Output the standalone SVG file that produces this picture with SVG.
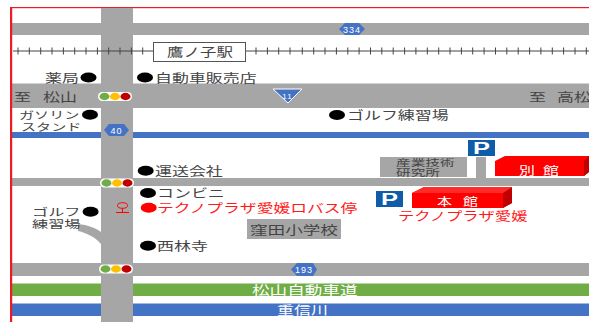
<svg xmlns="http://www.w3.org/2000/svg" width="589" height="322" viewBox="0 0 589 322">
<style>
text{font-family:"Noto Sans CJK JP","Liberation Sans",sans-serif;font-size:16px;fill:#444}
.r{fill:#a6a6a6}
.red{fill:#ff1a1a}.wt{fill:#fff}
.num{font-family:"Liberation Sans",sans-serif;font-size:9px;fill:#fff;letter-spacing:1px;text-anchor:middle}
</style>
<defs>
<g id="sig"><rect x="-17" y="-4.500" width="34" height="9" rx="4.500" fill="#fff"/><ellipse cx="-10.500" cy="0" rx="5" ry="3.700" fill="#70ad47"/><ellipse cx="0" cy="0" rx="5" ry="3.700" fill="#ffc000"/><ellipse cx="10.500" cy="0" rx="5" ry="3.700" fill="#c00000"/></g>
<g id="p"><rect width="27" height="16" fill="#0f5ca8"/><text transform="translate(13.500,14) scale(1.5,1)" text-anchor="middle" style="font-family:'Liberation Sans',sans-serif;font-weight:bold;font-size:17px;fill:#fff">P</text></g>
</defs>
<rect width="589" height="322" fill="#fff"/>
<rect x="10" y="7" width="579" height="1.200" fill="#ed1c24"/>
<rect class="r" x="12" y="23" width="577" height="12"/>
<rect class="r" x="12" y="83.500" width="577" height="24.500"/>
<rect x="12" y="132" width="577" height="6" fill="#4472c4"/>
<rect class="r" x="12" y="178" width="577" height="8"/>
<rect x="476" y="157" width="10" height="22" class="r"/>
<rect class="r" x="12" y="263" width="577" height="13"/>
<rect x="12" y="283.500" width="577" height="12.500" fill="#70ad47"/>
<rect x="12" y="303.500" width="577" height="12.500" fill="#4472c4"/>
<path class="r" d="M101 8h32v314h-32zM78 224C88 225 96 228 101 232V244C95 237 87 233 78 231Z"/>
<rect x="10" y="7" width="2.200" height="315" fill="#ed1c24"/>
<g id="rail" stroke="#444" fill="none"><path d="M13 51H589" stroke-width="1"/>
<path stroke-width="1" d="M18 47.500v7M29.300 47.500v7M40.700 47.500v7M52 47.500v7M63.400 47.500v7M74.700 47.500v7M86 47.500v7M97.400 47.500v7M108.700 47.500v7M120 47.500v7M131.400 47.500v7M142.700 47.500v7M256 47.500v7M267.400 47.500v7M278.700 47.500v7M290 47.500v7M302.300 47.500v7M313.700 47.500v7M325 47.500v7M336.400 47.500v7M347.800 47.500v7M359.100 47.500v7M370.500 47.500v7M381.800 47.500v7M393.200 47.500v7M404.600 47.500v7M415.900 47.500v7M427.300 47.500v7M438.700 47.500v7M450 47.500v7M461.400 47.500v7M472.700 47.500v7M484.100 47.500v7M495.500 47.500v7M506.800 47.500v7M518.200 47.500v7M529.600 47.500v7M540.900 47.500v7M552.300 47.500v7M563.600 47.500v7M575 47.500v7M586.300 47.500v7"/></g>
<g id="station"><rect x="153.500" y="42.500" width="92" height="19" fill="#fff" stroke="#555" stroke-width="1"/><text transform="translate(167,57) scale(1.03,.78)">鷹ノ子駅</text></g>
<path d="M345 23H359L365 29 359 35H345L339 29Z" fill="#4472c4"/>
<text class="num" x="352" y="32.500">334</text>
<path d="M273 89H302L288 103Z" fill="#4472c4" stroke="#fff" stroke-width="1"/>
<text class="num" x="287.500" y="99" style="font-size:8px">11</text>
<path d="M109 124H124L129 130 124 136H109L104 130Z" fill="#4472c4"/>
<text class="num" x="116.500" y="133.500">40</text>
<path d="M297 263H313L317 269.500 313 276H297L291 269.500Z" fill="#4472c4"/>
<text class="num" x="304" y="273">193</text>
<use href="#sig" x="115" y="96.500"/>
<use href="#sig" x="117" y="183"/>
<use href="#sig" x="116" y="269"/>
<g fill="#000"><ellipse cx="88.500" cy="77.500" rx="8" ry="5"/><ellipse cx="145" cy="77.500" rx="8" ry="5"/><ellipse cx="90" cy="114.700" rx="8" ry="5"/><ellipse cx="337" cy="115" rx="8" ry="5"/><ellipse cx="145.700" cy="170.700" rx="8" ry="5"/><ellipse cx="148" cy="193" rx="8" ry="5"/><ellipse cx="90.600" cy="211.700" rx="8" ry="5"/><ellipse cx="148" cy="245.700" rx="8" ry="5"/></g>
<ellipse cx="148.700" cy="207.700" rx="8" ry="5" fill="#f00"/>
<g id="busstop" fill="none" stroke="#f00" stroke-width="1"><ellipse cx="122.500" cy="205.500" rx="5" ry="2.800"/><path d="M122.500 208.300V212M116 212.500H129"/></g>
<text transform="translate(45,83) scale(1.06,.75)">薬局</text>
<text transform="translate(155,83) scale(1.06,.75)">自動車販売店</text>
<text transform="translate(14,102) scale(1.06,.75)">至</text>
<text transform="translate(43,102) scale(1.06,.75)">松山</text>
<text transform="translate(529,102) scale(1.06,.75)">至</text>
<text transform="translate(557,102) scale(1.06,.75)">高松</text>
<text transform="translate(19,119) scale(1.08,.72)" style="font-size:14px">ガソリン</text>
<text transform="translate(21,131) scale(1.08,.72)" style="font-size:14px">スタンド</text>
<text transform="translate(347,120) scale(1.06,.75)">ゴルフ練習場</text>
<text transform="translate(155,176) scale(1.06,.75)">運送会社</text>
<text transform="translate(157,198) scale(1.06,.75)">コンビニ</text>
<text class="red" transform="translate(157,213) scale(1.05,.75)">テクノプラザ愛媛ロバス停</text>
<text transform="translate(32,216) scale(1.08,.72)" style="font-size:15px">ゴルフ</text>
<text transform="translate(32,228) scale(1.08,.72)" style="font-size:15px">練習場</text>
<text transform="translate(157,251) scale(1.06,.75)">西林寺</text>
<rect class="r" x="247" y="219" width="94" height="20"/>
<text transform="translate(250,235) scale(1.1,.78)">窪田小学校</text>
<rect class="r" x="380" y="157" width="87" height="20"/>
<text transform="translate(396,165.500) scale(1.13,.72)" style="font-size:13px">産業技術</text>
<text transform="translate(396,175.500) scale(1.13,.72)" style="font-size:13px">研究所</text>
<use href="#p" x="468" y="140"/>
<use href="#p" x="376" y="191"/>
<g id="honkan"><path d="M412 193L424 187H512V203L503 208H412Z" fill="#f00"/><path d="M503 193L512 187V203L503 208Z" fill="#c00000"/><path d="M412 193L424 187H512L503 193Z" fill="#ff2a2a"/><text class="wt" transform="translate(437,205.500) scale(1,.75)" style="font-size:15px">本</text><text class="wt" transform="translate(463,205.500) scale(1,.75)" style="font-size:15px">館</text></g>
<g id="bekkan"><path d="M495 161L505 156H589V172L584 176H495Z" fill="#f00"/><path d="M584 161V176L589 172V156Z" fill="#c00000"/><text class="wt" transform="translate(519,175) scale(1.06,.75)" style="font-size:15px">別</text><text class="wt" transform="translate(543,175) scale(1.06,.75)" style="font-size:15px">館</text></g>
<text class="red" transform="translate(398,221) scale(1.02,.75)">テクノプラザ愛媛</text>
<text class="wt" transform="translate(252,295) scale(1.1,.75)">松山自動車道</text>
<text class="wt" transform="translate(277,315) scale(1.06,.75)">重信川</text>
</svg>
